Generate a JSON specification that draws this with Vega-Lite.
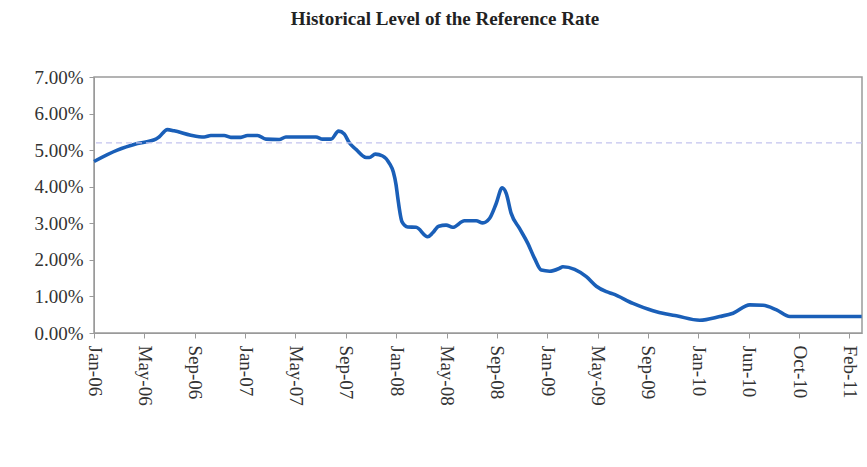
{
  "$schema": "https://vega.github.io/schema/vega-lite/v6.json",
  "width": 768,
  "height": 256,
  "autosize": "none",
  "padding": {"left": 94, "top": 77, "right": 5, "bottom": 134},
  "background": "white",
  "title": {
    "text": "Historical Level of the Reference Rate",
    "font": "Liberation Serif",
    "fontSize": 19,
    "fontWeight": "bold",
    "color": "#222222",
    "anchor": "middle",
    "offset": 39,
    "dx": -33
  },
  "config": {
    "view": {"stroke": "#9a9a9a", "strokeWidth": 1.5},
    "axis": {
      "labelFont": "Liberation Serif",
      "labelFontSize": 19,
      "labelColor": "#333333",
      "domainColor": "#9a9a9a",
      "tickColor": "#9a9a9a",
      "tickSize": 5,
      "grid": false,
      "title": null,
      "labelOverlap": false
    }
  },
  "datasets": {
    "rate": [
      {"t": 0.000, "v": 4.69},
      {"t": 0.463, "v": 5.00},
      {"t": 0.861, "v": 5.18},
      {"t": 1.227, "v": 5.30},
      {"t": 1.292, "v": 5.36},
      {"t": 1.457, "v": 5.56},
      {"t": 1.590, "v": 5.53},
      {"t": 1.922, "v": 5.41},
      {"t": 2.187, "v": 5.36},
      {"t": 2.320, "v": 5.40},
      {"t": 2.584, "v": 5.40},
      {"t": 2.718, "v": 5.35},
      {"t": 2.917, "v": 5.35},
      {"t": 3.048, "v": 5.40},
      {"t": 3.247, "v": 5.40},
      {"t": 3.414, "v": 5.30},
      {"t": 3.678, "v": 5.29},
      {"t": 3.811, "v": 5.36},
      {"t": 4.408, "v": 5.36},
      {"t": 4.539, "v": 5.30},
      {"t": 4.706, "v": 5.30},
      {"t": 4.857, "v": 5.52},
      {"t": 4.970, "v": 5.44},
      {"t": 5.070, "v": 5.20},
      {"t": 5.203, "v": 5.02},
      {"t": 5.402, "v": 4.80},
      {"t": 5.467, "v": 4.80},
      {"t": 5.586, "v": 4.89},
      {"t": 5.732, "v": 4.84},
      {"t": 5.865, "v": 4.64},
      {"t": 5.944, "v": 4.40},
      {"t": 5.998, "v": 4.05},
      {"t": 6.030, "v": 3.72},
      {"t": 6.117, "v": 3.04},
      {"t": 6.229, "v": 2.90},
      {"t": 6.396, "v": 2.89},
      {"t": 6.626, "v": 2.63},
      {"t": 6.726, "v": 2.74},
      {"t": 6.845, "v": 2.92},
      {"t": 6.992, "v": 2.95},
      {"t": 7.123, "v": 2.89},
      {"t": 7.356, "v": 3.07},
      {"t": 7.588, "v": 3.07},
      {"t": 7.720, "v": 3.01},
      {"t": 7.853, "v": 3.13},
      {"t": 7.986, "v": 3.54},
      {"t": 8.105, "v": 3.97},
      {"t": 8.185, "v": 3.82},
      {"t": 8.284, "v": 3.27},
      {"t": 8.449, "v": 2.86},
      {"t": 8.614, "v": 2.45},
      {"t": 8.748, "v": 2.04},
      {"t": 8.881, "v": 1.72},
      {"t": 9.046, "v": 1.69},
      {"t": 9.245, "v": 1.77},
      {"t": 9.310, "v": 1.81},
      {"t": 9.543, "v": 1.74},
      {"t": 9.776, "v": 1.54},
      {"t": 9.974, "v": 1.28},
      {"t": 10.173, "v": 1.13},
      {"t": 10.304, "v": 1.07},
      {"t": 10.702, "v": 0.81},
      {"t": 11.099, "v": 0.61},
      {"t": 11.366, "v": 0.52},
      {"t": 11.565, "v": 0.47},
      {"t": 12.028, "v": 0.35},
      {"t": 12.425, "v": 0.45},
      {"t": 12.690, "v": 0.54},
      {"t": 13.022, "v": 0.77},
      {"t": 13.286, "v": 0.76},
      {"t": 13.553, "v": 0.63},
      {"t": 13.817, "v": 0.45},
      {"t": 15.243, "v": 0.45}
    ],
    "ref": [{"level": 5.2}]
  },
  "layer": [
    {
      "data": {"name": "rate"},
      "mark": {"type": "line", "color": "#1a5fb8", "strokeWidth": 3.6, "interpolate": "monotone"},
      "encoding": {
        "x": {
          "field": "t",
          "type": "quantitative",
          "scale": {"domain": [0, 15.25], "nice": false, "zero": false},
          "axis": {
            "values": [0, 1, 2, 3, 4, 5, 6, 7, 8, 9, 10, 11, 12, 13, 14, 15],
            "labelAngle": 90,
            "labelAlign": "left",
            "labelBaseline": "middle",
            "labelPadding": 7,
            "labelFlush": false,
            "labelOverlap": false,
            "labelExpr": "['Jan-06','May-06','Sep-06','Jan-07','May-07','Sep-07','Jan-08','May-08','Sep-08','Jan-09','May-09','Sep-09','Jan-10','Jun-10','Oct-10','Feb-11'][datum.value]"
          }
        },
        "y": {
          "field": "v",
          "type": "quantitative",
          "scale": {"domain": [0, 7], "nice": false},
          "axis": {
            "values": [0, 1, 2, 3, 4, 5, 6, 7],
            "labelPadding": 6,
            "labelOverlap": false,
            "labelExpr": "format(datum.value, '.2f') + '%'"
          }
        }
      }
    },
    {
      "data": {"name": "ref"},
      "mark": {"type": "rule", "color": "#c3c3ee", "strokeDash": [6, 4], "strokeWidth": 1.2},
      "encoding": {
        "y": {
          "field": "level",
          "type": "quantitative",
          "axis": {
            "values": [0, 1, 2, 3, 4, 5, 6, 7],
            "labelPadding": 6,
            "labelOverlap": false,
            "labelExpr": "format(datum.value, '.2f') + '%'"
          }
        }
      }
    }
  ]
}
